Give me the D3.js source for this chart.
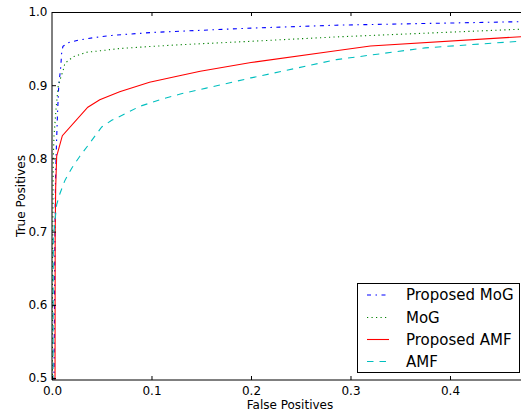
<!DOCTYPE html>
<html><head><meta charset="utf-8">
<script src="https://cdn.jsdelivr.net/npm/d3@7"></script>
<style>
html,body{margin:0;padding:0;background:#fff;}
svg{display:block;font-family:"DejaVu Sans",sans-serif;}
</style></head>
<body>
<svg id="chart" width="521" height="415"></svg>
<script>
// ---- data (false positive rate, true positive rate) ----
const seriesNames = ["Proposed MoG", "MoG", "Proposed AMF", "AMF"];
const proposedMoG = [[0,0],[0.002,0.5],[0.003,0.70],[0.0035,0.77],[0.0045,0.82],[0.0055,0.86],[0.0068,0.90],[0.0088,0.925],[0.0098,0.946],[0.011,0.953],[0.016,0.958],[0.028,0.962],[0.042,0.965],[0.06,0.968],[0.1,0.972],[0.2,0.978],[0.285,0.982],[0.48,0.987]];
const mog = [[0,0],[0.0005,0.65],[0.001,0.73],[0.0013,0.80],[0.002,0.83],[0.004,0.867],[0.0063,0.90],[0.0087,0.91],[0.0113,0.921],[0.013,0.93],[0.0215,0.939],[0.035,0.945],[0.055,0.948],[0.067,0.950],[0.1,0.953],[0.125,0.955],[0.2,0.960],[0.286,0.966],[0.48,0.977]];
const proposedAMF = [[0,0],[0.003,0.45],[0.0032,0.70],[0.0037,0.76],[0.0047,0.803],[0.0104,0.831],[0.036,0.870],[0.048,0.880],[0.068,0.891],[0.098,0.904],[0.128,0.913],[0.149,0.919],[0.2,0.931],[0.28,0.946],[0.32,0.9535],[0.48,0.967]];
const amf = [[0,0],[0.001,0.49],[0.0013,0.69],[0.003,0.715],[0.0047,0.737],[0.008,0.752],[0.013,0.77],[0.02,0.787],[0.028,0.803],[0.038,0.821],[0.05,0.843],[0.06,0.852],[0.075,0.862],[0.088,0.871],[0.108,0.880],[0.129,0.888],[0.155,0.896],[0.2,0.910],[0.286,0.935],[0.375,0.951],[0.48,0.961]];
const xTicks = [0.0, 0.1, 0.2, 0.3, 0.4];
const yTicks = [0.5, 0.6, 0.7, 0.8, 0.9, 1.0];
const xLabel = "False Positives";
const yLabel = "True Positives";

const allSeries = [proposedMoG, mog, proposedAMF, amf];
const colors = ["#0000ff", "#008000", "#ff0000", "#00bfbf"];
const dashes = ["4,4.5,1.5,4.5", "1.2,3.3", null, "6.5,6"];

const svg = d3.select("#chart");
const L = 52, R = 528, T = 12, B = 380;
const x = d3.scaleLinear().domain([0, 0.4784]).range([L, R]);
const y = d3.scaleLinear().domain([0.4973, 1.0]).range([B, T]);

svg.append("defs").append("clipPath").attr("id", "clip")
  .append("rect").attr("x", L).attr("y", T).attr("width", R - L).attr("height", B - T);

const line = d3.line().x(d => x(d[0])).y(d => y(d[1]));
const plot = svg.append("g").attr("clip-path", "url(#clip)");
allSeries.forEach((s, i) => {
  plot.append("path").datum(s)
    .attr("d", line)
    .attr("fill", "none")
    .attr("stroke", colors[i])
    .attr("stroke-width", 1.1)
    .attr("stroke-dasharray", dashes[i]);
});

// axes (ticks inward)
const gx = svg.append("g").attr("transform", `translate(0,${B})`)
  .call(d3.axisBottom(x).tickValues(xTicks).tickSize(-4).tickPadding(6).tickFormat(d3.format(".1f")));
const gxTop = svg.append("g").attr("transform", `translate(0,${T})`)
  .call(d3.axisTop(x).tickValues(xTicks.slice(1)).tickSize(-4).tickFormat(""));
const gy = svg.append("g").attr("transform", `translate(${L},0)`)
  .call(d3.axisLeft(y).tickValues(yTicks).tickSize(-4).tickPadding(4.5).tickFormat(d3.format(".1f")));
[gx, gxTop, gy].forEach(g => {
  g.select(".domain").remove();
  g.selectAll(".tick line").attr("stroke", "#000");
  g.selectAll("text").attr("font-family", "DejaVu Sans").attr("font-size", 12).attr("fill", "#000");
});

// spines
svg.append("line").attr("x1", L).attr("x2", R).attr("y1", T + 0.5).attr("y2", T + 0.5).attr("stroke", "#000").attr("stroke-width", 1);
svg.append("line").attr("x1", L).attr("x2", L).attr("y1", T).attr("y2", B).attr("stroke", "#000").attr("stroke-width", 1);
svg.append("line").attr("x1", L).attr("x2", R).attr("y1", B).attr("y2", B).attr("stroke", "#000").attr("stroke-width", 1);

// axis labels
svg.append("text").attr("x", (L + R) / 2).attr("y", 409).attr("text-anchor", "middle")
  .attr("font-size", 12).text(xLabel);
svg.append("text").attr("transform", `translate(24.5,${(T + B) / 2}) rotate(-90)`).attr("text-anchor", "middle")
  .attr("font-size", 12).text(yLabel);

// legend
const lg = svg.append("g");
lg.append("rect").attr("x", 357.5).attr("y", 283.5).attr("width", 162).attr("height", 89)
  .attr("fill", "#fff").attr("stroke", "#000").attr("stroke-width", 1);
const rowY = [295, 317.5, 339.5, 361.5];
seriesNames.forEach((n, i) => {
  lg.append("line").attr("x1", 367).attr("x2", 389).attr("y1", rowY[i]).attr("y2", rowY[i])
    .attr("stroke", colors[i]).attr("stroke-width", 1.1).attr("stroke-dasharray", dashes[i]);
  lg.append("text").attr("x", 406).attr("y", rowY[i] + 5.3).attr("font-size", 15).text(n);
});
</script>
</body></html>
